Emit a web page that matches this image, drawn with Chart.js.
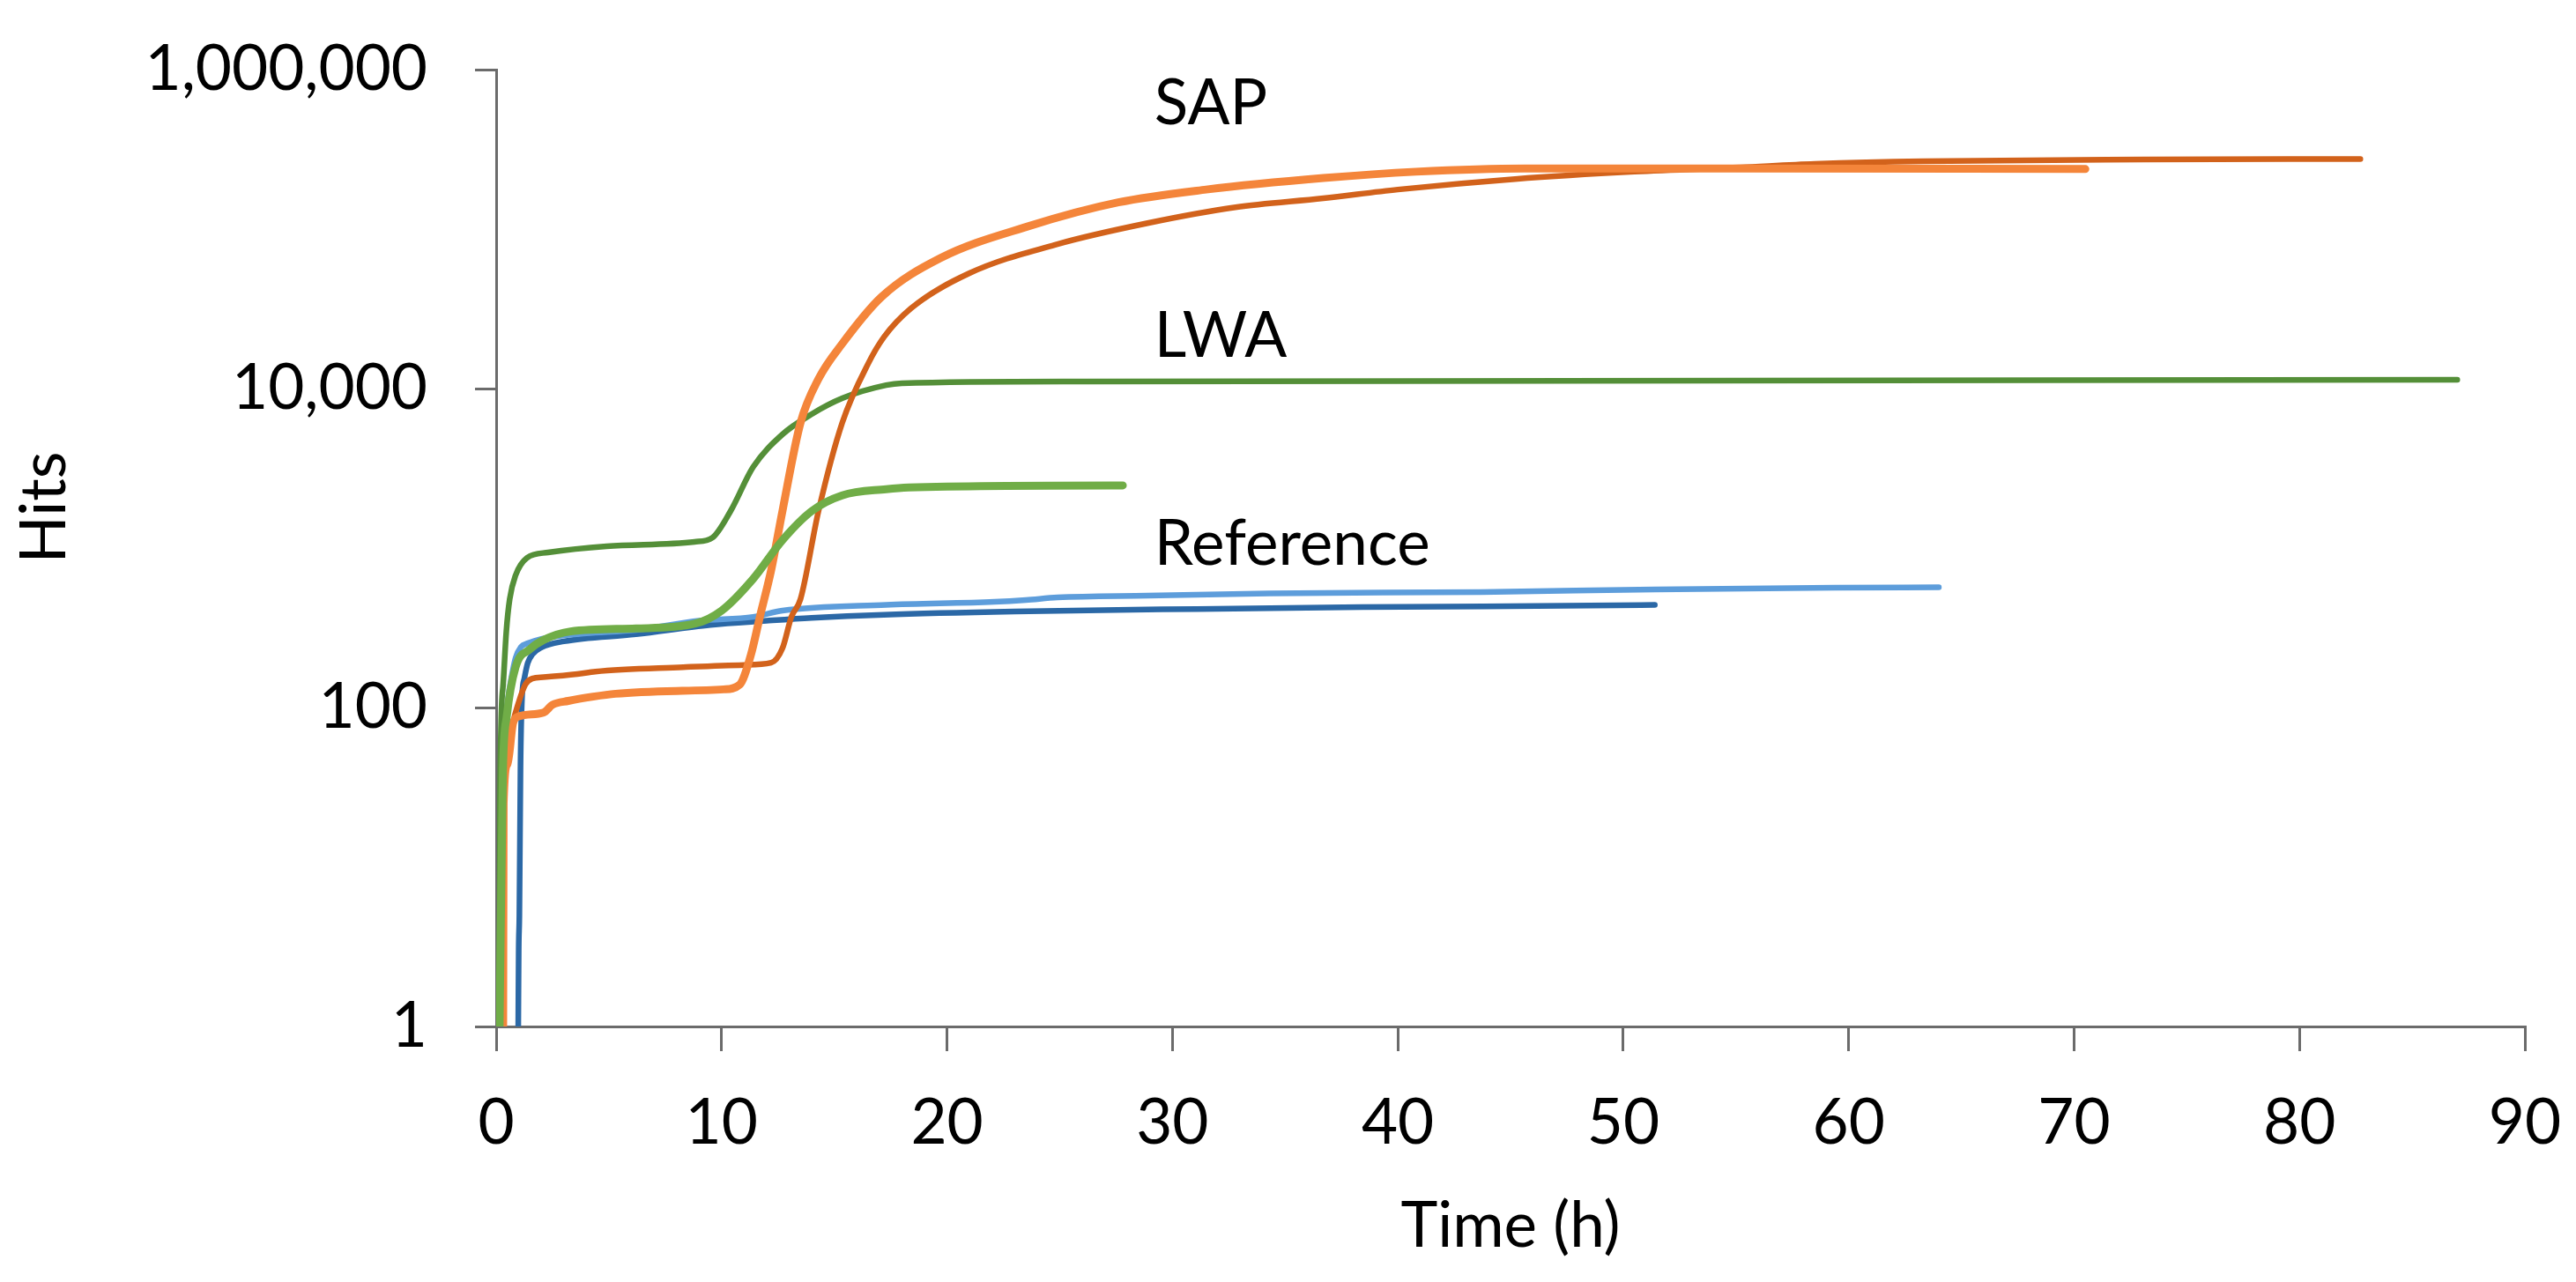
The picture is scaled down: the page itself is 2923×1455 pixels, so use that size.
<!DOCTYPE html>
<html>
<head>
<meta charset="utf-8">
<title>Hits over time</title>
<script src="https://cdn.jsdelivr.net/npm/chart.js@4.4.1/dist/chart.umd.min.js"></script>
<style>
  html, body { margin: 0; padding: 0; background: #fff; }
  #wrap { width: 2923px; height: 1455px; }
</style>
</head>
<body>
<div id="wrap"><canvas id="chart" width="2923" height="1455"></canvas></div>
<script>
// axis ticks
var xTicks = [0, 10, 20, 30, 40, 50, 60, 70, 80, 90];
var yTicks = [1, 100, 10000, 1000000];

// Reference, run A (dark blue)
var refATime = [0.98, 1.0, 1.03, 1.08, 1.15, 1.25, 1.4, 1.6, 2.0, 3.0, 6.2, 9.5, 12.0, 14.0, 17.2, 23.0, 31.1, 38.4, 49.7, 51.4];
var refAHits = [1, 3, 5, 43, 118, 152, 190, 215, 238, 260, 288, 330, 350, 365, 382, 400, 415, 426, 437, 440];

// Reference, run B (light blue)
var refBTime = [0.2, 0.25, 0.4, 0.6, 0.86, 1.1, 1.4, 1.7, 2.5, 4.0, 6.2, 9.0, 11.4, 12.7, 17.3, 22.1, 23.5, 24.9, 28.9, 34.3, 43.7, 51.4, 59.4, 64.0];
var refBHits = [1, 40, 88, 134, 204, 240, 253, 262, 278, 292, 306, 350, 370, 405, 440, 460, 472, 490, 503, 520, 530, 550, 564, 568];

// SAP, run A (dark orange)
var sapATime = [0.31, 0.33, 0.5, 0.75, 1.0, 1.3, 1.6, 2.1, 3.6, 4.4, 8.3, 11.0, 12.2, 12.7, 13.1, 13.5, 14.3, 15.35, 16.5, 17.2, 18.4, 21.0, 24.9, 28.9, 32.8, 36.7, 40.0, 45.2, 50.5, 55.2, 58.5, 63.3, 73.1, 82.7];
var sapAHits = [1, 25, 44, 80, 108, 140, 152, 155, 162, 168, 179, 185, 191, 235, 371, 478, 1706, 6090, 14300, 21000, 31800, 52900, 80500, 109000, 137000, 156000, 177000, 206000, 229000, 244000, 256000, 266000, 273000, 275000];

// SAP, run B (orange)
var sapBTime = [0.31, 0.33, 0.5, 0.75, 1.0, 2.1, 2.5, 3.2, 4.3, 5.3, 8.0, 10.1, 10.8, 11.3, 11.7, 12.2, 12.7, 13.5, 14.3, 15.35, 17.1, 19.7, 23.6, 27.6, 31.5, 36.7, 40.8, 45.6, 55.0, 70.5];
var sapBHits = [1, 25, 44, 80, 88, 93, 104, 110, 117, 122, 127, 130, 139, 214, 371, 727, 1706, 6090, 11500, 19100, 37600, 65700, 104000, 147000, 177000, 209000, 229000, 240000, 240000, 238000];

// LWA, run A (dark green)
var lwaATime = [0.15, 0.17, 0.3, 0.45, 0.6, 0.86, 1.37, 2.3, 4.9, 8.8, 9.6, 10.4, 11.4, 12.7, 14.0, 15.35, 17.3, 18.0, 26.2, 87.0];
var lwaAHits = [1, 25, 134, 300, 478, 674, 869, 938, 1026, 1094, 1164, 1706, 3220, 5160, 6920, 8690, 10500, 10800, 11070, 11350];

// LWA, run B (light green)
var lwaBTime = [0.15, 0.3, 0.47, 0.86, 1.5, 2.1, 3.3, 6.2, 8.8, 10.0, 11.4, 12.7, 14.0, 15.35, 17.3, 18.3, 27.3, 27.8];
var lwaBHits = [1, 40, 88, 179, 232, 265, 300, 313, 335, 405, 641, 1120, 1706, 2140, 2340, 2400, 2470, 2470];

function pts(ts, vs) {
	var out = [];
	for (var i = 0; i < ts.length; i++) out.push({ x : ts[i], y : vs[i] });
	return out;
}

function line(label, ts, vs, color, width) {
	return {
		label : label,
		data : pts(ts, vs),
		borderColor : color,
		backgroundColor : color,
		borderWidth : width,
		pointRadius : 0,
		fill : false,
		cubicInterpolationMode : 'monotone',
		borderCapStyle : 'round',
		borderJoinStyle : 'round'
	};
}

var axisColor = '#6b6b6b';
var fontFamily = 'Lato, "Open Sans", sans-serif';

// group labels and y title drawn onto the plot
var textPlugin = {
	id : 'texts',
	afterDraw : function(chart) {
		var ctx = chart.ctx;
		var xs = chart.scales.x, ys = chart.scales.y;
		ctx.save();
		ctx.fillStyle = '#000';
		ctx.font = '71px ' + fontFamily;
		ctx.textAlign = 'left';
		ctx.textBaseline = 'middle';
		var notes = [ [ 'SAP', 29.2, 610000 ], [ 'LWA', 29.2, 21200 ], [ 'Reference', 29.2, 1052 ] ];
		notes.forEach(function(n) {
			ctx.fillText(n[0], xs.getPixelForValue(n[1]), ys.getPixelForValue(n[2]));
		});
		ctx.translate(51, 576);
		ctx.rotate(-Math.PI / 2);
		ctx.textAlign = 'center';
		ctx.fillText('Hits', 0, 0);
		ctx.restore();
	}
};

window.onload = function() {
	Chart.defaults.font.family = fontFamily;
	Chart.defaults.font.size = 71;
	Chart.defaults.color = '#000';

	var ctx = document.getElementById('chart').getContext('2d');
	window.myLine = new Chart(ctx, {
		type : 'line',
		data : {
			datasets : [
				line('LWA B', lwaBTime, lwaBHits, '#70ad47', 9),
				line('SAP B', sapBTime, sapBHits, '#f4853a', 9),
				line('SAP A', sapATime, sapAHits, '#d2621b', 6.5),
				line('LWA A', lwaATime, lwaAHits, '#548f38', 6.5),
				line('Reference B', refBTime, refBHits, '#5d9ddb', 6.5),
				line('Reference A', refATime, refAHits, '#2b68a6', 6.5)
			]
		},
		options : {
			responsive : false,
			animation : false,
			devicePixelRatio : 1,
			layout : { padding : { left : 0, right : 58, top : 79, bottom : 0 } },
			plugins : {
				legend : { display : false },
				tooltip : { enabled : false }
			},
			scales : {
				x : {
					type : 'linear',
					min : 0,
					max : 90,
					afterBuildTicks : function(s) {
						s.ticks = xTicks.map(function(v) { return { value : v }; });
					},
					afterFit : function(s) {
						s.height = 290;
						s.paddingLeft = 0;
						s.paddingRight = 0;
					},
					grid : { drawOnChartArea : false, drawTicks : true, tickLength : 28, color : axisColor, lineWidth : 3 },
					border : { display : true, color : axisColor, width : 3 },
					ticks : { padding : 40, maxRotation : 0, autoSkip : false },
					title : { display : true, text : 'Time (h)', padding : { top : 0, bottom : 20 } }
				},
				y : {
					type : 'logarithmic',
					min : 1,
					max : 1000000,
					afterBuildTicks : function(s) {
						s.ticks = yTicks.map(function(v) { return { value : v }; });
					},
					afterFit : function(s) {
						s.width = 563;
						s.paddingTop = 0;
						s.paddingBottom = 0;
					},
					grid : { drawOnChartArea : false, drawTicks : true, tickLength : 24, color : axisColor, lineWidth : 3 },
					border : { display : true, color : axisColor, width : 3 },
					ticks : {
						padding : 54,
						autoSkip : false,
						callback : function(v) { return Number(v).toLocaleString('en-US'); }
					}
				}
			}
		},
		plugins : [ textPlugin ]
	});
};
</script>
</body>
</html>
